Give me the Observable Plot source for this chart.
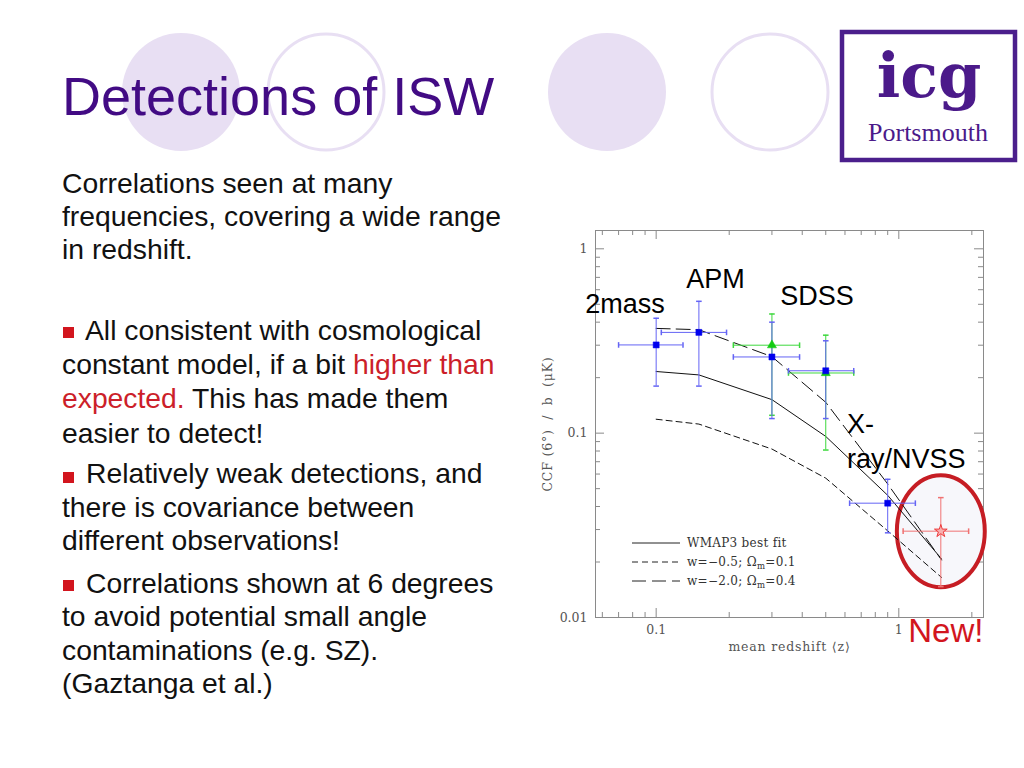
<!DOCTYPE html>
<html><head><meta charset="utf-8">
<script src="https://cdn.jsdelivr.net/npm/d3@7"></script>
<script src="https://cdn.jsdelivr.net/npm/@observablehq/plot@0.6"></script>
<style>
body{margin:0;background:#fff;}
#slide{position:relative;width:1024px;height:768px;overflow:hidden;background:#fff;}
#bg{position:absolute;left:0;top:0;}
#chart{position:absolute;left:540px;top:220px;width:460px;height:440px;}
#legend{position:absolute;left:620px;top:532px;overflow:visible;}
.t{font-family:"Liberation Sans",Arial,sans-serif;font-size:28.3px;fill:#111;}
.r{fill:#cc1f2a;}
</style></head><body>
<div id="slide">
<svg id="bg" width="1024" height="768">
  <circle cx="181" cy="92" r="59" fill="#e8dff3"/>
  <circle cx="326" cy="92" r="58" fill="none" stroke="#e8dff3" stroke-width="3"/>
  <circle cx="607" cy="92" r="59" fill="#e8dff3"/>
  <circle cx="770" cy="92" r="58" fill="none" stroke="#e8dff3" stroke-width="3"/>
  <text x="62" y="115" style="font-family:'Liberation Sans',Arial,sans-serif;font-size:54px;fill:#420b84;">Detections of ISW</text>
  <rect x="842" y="32" width="173" height="128" fill="#fff" stroke="#4b1f8c" stroke-width="4.5"/>
  <text x="929" y="97" text-anchor="middle" style="font-family:'DejaVu Serif',serif;font-weight:bold;font-size:62px;fill:#4b1a8a;">icg</text>
  <text x="928" y="141" text-anchor="middle" style="font-family:'Liberation Serif',serif;font-size:26px;fill:#4b1a8a;">Portsmouth</text>

  <text class="t" x="62" y="193">Correlations seen at many</text>
  <text class="t" x="62" y="226">frequencies, covering a wide range</text>
  <text class="t" x="62" y="259">in redshift.</text>

  <rect x="63" y="327" width="11" height="11" fill="#d2151e"/>
  <text class="t" x="85" y="340">All consistent with cosmological</text>
  <text class="t" x="62" y="374">constant model, if a bit <tspan class="r">higher than</tspan></text>
  <text class="t" x="62" y="408"><tspan class="r">expected.</tspan> This has made them</text>
  <text class="t" x="62" y="443">easier to detect!</text>

  <rect x="63" y="472" width="11" height="11" fill="#d2151e"/>
  <text class="t" x="86" y="483">Relatively weak detections, and</text>
  <text class="t" x="62" y="517">there is covariance between</text>
  <text class="t" x="62" y="550">different observations!</text>

  <rect x="63" y="580" width="11" height="11" fill="#d2151e"/>
  <text class="t" x="86" y="593">Correlations shown at 6 degrees</text>
  <text class="t" x="62" y="626">to avoid potential small angle</text>
  <text class="t" x="62" y="660">contaminations (e.g. SZ).</text>
  <text class="t" x="62" y="693">(Gaztanga et al.)</text>
</svg>
<div id="chart"></div>
<svg id="legend" width="220" height="62"></svg>
</div>
<script>
// ---- data ----
const curveZ = [0.1, 0.15, 0.3, 0.5, 0.9, 1.5];
const wmap3  = [0.216, 0.207, 0.152, 0.096, 0.046, 0.0208];
const wm05   = [0.119, 0.112, 0.082, 0.057, 0.0295, 0.0165];
const wm20   = [0.37, 0.364, 0.26, 0.147, 0.053, 0.0205];

const ptSurvey = ["2mass","APM","SDSS","SDSS","SDSS","SDSS","NVSS","New"];
const ptKind   = ["blue","blue","blue","green","blue","green","blue","red"];
const ptZ   = [0.10, 0.15, 0.30, 0.30, 0.50, 0.50, 0.90, 1.49];
const ptZlo = [0.070, 0.105, 0.208, 0.208, 0.351, 0.351, 0.627, 1.042];
const ptZhi = [0.129, 0.195, 0.39, 0.39, 0.652, 0.652, 1.17, 1.94];
const ptV   = [0.301, 0.352, 0.259, 0.30, 0.218, 0.212, 0.0417, 0.0294];
const ptVlo = [0.18, 0.18, 0.12, 0.125, 0.12, 0.081, 0.0288, 0.0147];
const ptVhi = [0.42, 0.519, 0.40, 0.443, 0.317, 0.34, 0.0562, 0.0447];

const labelText = ["2mass","APM","SDSS","X-","ray/NVSS"];
const labelZ    = [0.0744, 0.1754, 0.4606, 0.612, 0.612];
const labelV    = [0.501, 0.687, 0.549, 0.112, 0.0725];
const labelAnchor = ["middle","middle","middle","start","start"];
const newText = "New!", newZ = 1.563, newV = 0.00837;

const xMajor = [0.1, 1], xTickLabels = ["0.1", "1"];
const xMinor = [0.06,0.07,0.08,0.09,0.2,0.3,0.4,0.5,0.6,0.7,0.8,0.9,2];
const yMajor = [0.01, 0.1, 1], yTickLabels = ["0.01", "0.1", "1"];
const yMinor = [0.02,0.03,0.04,0.05,0.06,0.07,0.08,0.09,0.2,0.3,0.4,0.5,0.6,0.7,0.8,0.9];

const legendLabels = [["WMAP3 best fit"], ["w=\u22120.5; \u03A9", "m", "=0.1"], ["w=\u22122.0; \u03A9", "m", "=0.4"]];
const legendDash = ["none", "6,4", "14,6"];

// ---- build ----
const rows = ptZ.map((z, i) => ({survey: ptSurvey[i], kind: ptKind[i], z, zlo: ptZlo[i], zhi: ptZhi[i], v: ptV[i], vlo: ptVlo[i], vhi: ptVhi[i]}));
const curves = [
  {vals: wmap3, dash: legendDash[0]},
  {vals: wm05, dash: legendDash[1]},
  {vals: wm20, dash: legendDash[2]}
];
const labels = labelText.map((t, i) => ({t, z: labelZ[i], v: labelV[i], a: labelAnchor[i]}));

const W = 460, H = 440, mL = 55, mR = 17, mT = 10, mB = 43;
const pw = W - mL - mR, ph = H - mT - mB;
const frameC = "#8a8a8a";

const hCap = {draw(ctx, size){const r = Math.sqrt(size/Math.PI); ctx.moveTo(-r,0); ctx.lineTo(r,0);}};
const vCap = {draw(ctx, size){const r = Math.sqrt(size/Math.PI); ctx.moveTo(0,-r); ctx.lineTo(0,r);}};
const ellipseSym = {draw(ctx, size){
  const ry = Math.sqrt(size/Math.PI), rx = ry*0.785, k = 0.5523;
  ctx.moveTo(rx,0);
  ctx.bezierCurveTo(rx, ry*k, rx*k, ry, 0, ry);
  ctx.bezierCurveTo(-rx*k, ry, -rx, ry*k, -rx, 0);
  ctx.bezierCurveTo(-rx, -ry*k, -rx*k, -ry, 0, -ry);
  ctx.bezierCurveTo(rx*k, -ry, rx, -ry*k, rx, 0);
  ctx.closePath();
}};

const kindStyle = {
  blue:  {bar: "#6464f5", mark: "#0000ee", symbol: "square", r: 3.4},
  green: {bar: "#3ed83e", mark: "#11cc11", symbol: "triangle", r: 3.4},
  red:   {bar: "#f07272", mark: "#ee3a3a", symbol: "star", r: 4}
};

function errMarks(kind) {
  const d = rows.filter(r => r.kind === kind), s = kindStyle[kind];
  return [
    Plot.ruleX(d, {x: "z", y1: "vlo", y2: "vhi", stroke: s.bar, strokeWidth: 1}),
    Plot.ruleY(d, {y: "v", x1: "zlo", x2: "zhi", stroke: s.bar, strokeWidth: 1}),
    Plot.dot(d, {x: "z", y: "vlo", symbol: hCap, r: 2.8, stroke: s.bar, fill: "none"}),
    Plot.dot(d, {x: "z", y: "vhi", symbol: hCap, r: 2.8, stroke: s.bar, fill: "none"}),
    Plot.dot(d, {x: "zlo", y: "v", symbol: vCap, r: 2.8, stroke: s.bar, fill: "none"}),
    Plot.dot(d, {x: "zhi", y: "v", symbol: vCap, r: 2.8, stroke: s.bar, fill: "none"})
  ];
}
function pointMarks(kind) {
  const d = rows.filter(r => r.kind === kind), s = kindStyle[kind];
  if (kind === "red") return Plot.dot(d, {x: "z", y: "v", symbol: s.symbol, r: s.r, stroke: s.mark, fill: "#f8b0b0", strokeWidth: 1});
  return Plot.dot(d, {x: "z", y: "v", symbol: s.symbol, r: s.r, fill: s.mark, stroke: s.mark, strokeWidth: 0.5});
}

const serif = "'DejaVu Serif', serif";
const sans = "'Liberation Sans', Arial, sans-serif";

const chart = Plot.plot({
  width: W, height: H, marginLeft: mL, marginRight: mR, marginTop: mT, marginBottom: mB,
  style: {fontFamily: serif, fontSize: "12.5px", color: "#555", background: "transparent"},
  x: {type: "log", domain: [0.05623, 2.234], ticks: xMajor, tickFormat: d => xTickLabels[xMajor.indexOf(d)], tickSize: 0, tickPadding: 8, label: null},
  y: {type: "log", domain: [0.01, 1.257], ticks: yMajor, tickFormat: d => yTickLabels[yMajor.indexOf(d)], tickSize: 0, tickPadding: 8, label: null},
  marks: [
    Plot.frame({stroke: frameC}),
    Plot.tickX(xMajor, {x: d => d, insetTop: ph - 9, stroke: frameC}),
    Plot.tickX(xMajor, {x: d => d, insetBottom: ph - 9, stroke: frameC}),
    Plot.tickX(xMinor, {x: d => d, insetTop: ph - 5, stroke: frameC}),
    Plot.tickX(xMinor, {x: d => d, insetBottom: ph - 5, stroke: frameC}),
    Plot.tickY(yMajor, {y: d => d, insetRight: pw - 9, stroke: frameC}),
    Plot.tickY(yMajor, {y: d => d, insetLeft: pw - 9, stroke: frameC}),
    Plot.tickY(yMinor, {y: d => d, insetRight: pw - 5, stroke: frameC}),
    Plot.tickY(yMinor, {y: d => d, insetLeft: pw - 5, stroke: frameC}),
    // highlight ellipse around the new point
    Plot.dot(rows.filter(r => r.kind === "red"), {x: "z", y: "v", symbol: ellipseSym, r: 56, fill: "#f7f7fb", stroke: "#c61d24", strokeWidth: 4}),
    // model curves
    ...curves.map(c => Plot.line(curveZ.map((z, i) => ({z, v: c.vals[i]})), {x: "z", y: "v", stroke: "#111", strokeWidth: 1, strokeDasharray: c.dash === "none" ? null : c.dash})),
    ...errMarks("green"), ...errMarks("blue"), ...errMarks("red"),
    pointMarks("green"), pointMarks("blue"), pointMarks("red"),
    Plot.text(labels.filter(d => d.a === "middle"), {x: "z", y: "v", text: "t", textAnchor: "middle", fontFamily: sans, fontSize: 27, fill: "#000"}),
    Plot.text(labels.filter(d => d.a === "start"), {x: "z", y: "v", text: "t", textAnchor: "start", fontFamily: sans, fontSize: 27, fill: "#000"}),
    Plot.text([newText], {x: () => newZ, y: () => newV, text: d => d, fontFamily: sans, fontSize: 33, fill: "#d2161e"}),
    Plot.text(["mean redshift \u27E8z\u27E9"], {frameAnchor: "bottom", dy: 29, lineAnchor: "middle", textAnchor: "middle", fontFamily: serif, fontSize: 12.5, fill: "#555", text: d => d, style: "letter-spacing:0.8px"}),
    Plot.text(["CCF (6\u00B0)\u00A0 /\u00A0 b\u00A0 (\u03BCK)"], {frameAnchor: "left", dx: -48, rotate: -90, textAnchor: "middle", lineAnchor: "middle", fontFamily: serif, fontSize: 12.5, fill: "#555", text: d => d})
  ]
});
document.getElementById("chart").appendChild(chart);
// letter-spacing on axis labels (wide serif look)
d3.select(chart).selectAll("text").filter(function(){ return /redshift|CCF/.test(this.textContent); }).style("letter-spacing", "0.8px");

// legend (inside the plot frame)
const lg = d3.select("#legend");
legendLabels.forEach((parts, i) => {
  const y = 11 + i * 19;
  const ln = lg.append("line").attr("x1", 12).attr("x2", 60).attr("y1", y).attr("y2", y).attr("stroke", "#222").attr("stroke-width", 1);
  if (legendDash[i] !== "none") ln.attr("stroke-dasharray", legendDash[i]);
  const t = lg.append("text").attr("x", 67).attr("y", y + 4).style("font-family", serif).style("font-size", "12px").style("letter-spacing", "0.3px").style("fill", "#333");
  t.append("tspan").text(parts[0]);
  if (parts.length > 1) {
    t.append("tspan").attr("dy", 3).style("font-size", "8.5px").text(parts[1]);
    t.append("tspan").attr("dy", -3).text(parts[2]);
  }
});
</script>
</body></html>
